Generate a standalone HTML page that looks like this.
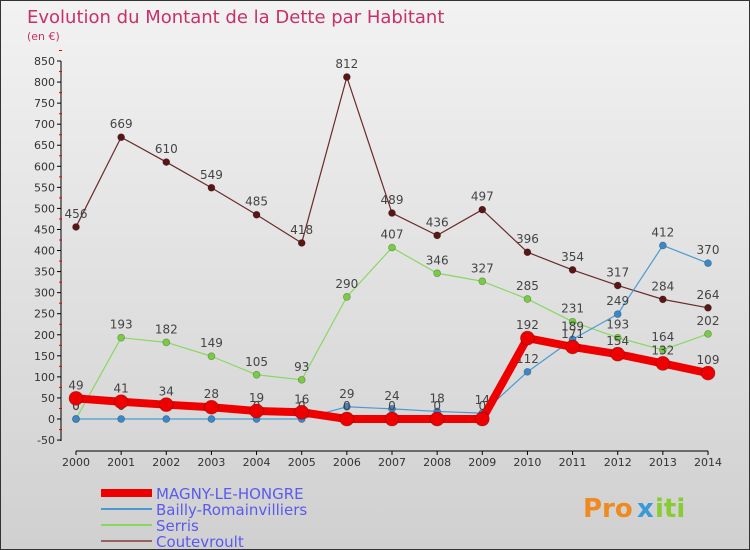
<!DOCTYPE html>
<html><head><meta charset="utf-8"><style>
body{margin:0}
#c{width:750px;height:550px;position:relative;background:linear-gradient(#f2f2f2,#d0d0d0);font-family:"DejaVu Sans","Liberation Sans",sans-serif;box-sizing:border-box;border:1px solid #333;overflow:hidden}
</style></head><body>
<div id="c">
<svg id="s" width="750" height="550" style="position:absolute;left:0;top:0"></svg>
</div>
<script>
const years=[2000,2001,2002,2003,2004,2005,2006,2007,2008,2009,2010,2011,2012,2013,2014];
const magny=[49,41,34,28,19,16,0,0,0,0,192,171,154,132,109];
const bailly=[0,0,0,0,0,0,29,24,18,14,112,189,249,412,370];
const serris=[0,193,182,149,105,93,290,407,346,327,285,231,193,164,202];
const coute=[456,669,610,549,485,418,812,489,436,497,396,354,317,284,264];
const yTicks=[-50,0,50,100,150,200,250,300,350,400,450,500,550,600,650,700,750,800,850];
const NS='http://www.w3.org/2000/svg',s=document.getElementById('s');
const X=i=>75+i*(707-75)/14, Y=v=>418-v*(418-60)/850;
function el(t,a,name,txt){const e=document.createElementNS(NS,t);for(const k in a)e.setAttribute(k,a[k]);


if(txt!==undefined)e.textContent=txt;s.appendChild(e);return e;}
el('text',{x:26,y:22,fill:'#c8306a','font-size':18},'chart-title','Evolution du Montant de la Dette par Habitant');
el('text',{x:26,y:39,fill:'#c8306a','font-size':11},'chart-subtitle','(en €)');
el('line',{x1:60,y1:60,x2:60,y2:440,stroke:'#000'},'y-axis');
el('line',{x1:75,y1:450,x2:707,y2:450,stroke:'#000'},'x-axis');
yTicks.forEach(v=>{const y=Y(v);el('line',{x1:56,y1:y,x2:60,y2:y,stroke:'#000'},'y-tick');
el('line',{x1:58,y1:y-10.5,x2:61,y2:y-10.5,stroke:'#e00'},'y-minor-tick');
el('text',{x:54,y:y+4,'text-anchor':'end','font-size':11,fill:'#333'},'y-tick-label',v);});
years.forEach((yr,i)=>{el('line',{x1:X(i),y1:450,x2:X(i),y2:454,stroke:'#000'},'x-tick');
el('text',{x:X(i),y:465,'text-anchor':'middle','font-size':11,fill:'#333'},'x-tick-label',yr);});
function series(d,col,w,r,dot,name){
el('polyline',{points:d.map((v,i)=>X(i)+','+Y(v)).join(' '),fill:'none',stroke:col,'stroke-width':w,'stroke-linejoin':'round'},name+'-line');
d.forEach((v,i)=>{el('circle',{cx:X(i),cy:Y(v),r:r,fill:dot,stroke:'rgba(0,0,0,0.3)','stroke-width':0.7},name+'-point');
el('text',{x:X(i),y:Y(v)-9,'text-anchor':'middle','font-size':12,fill:'#444'},name+'-value',v);});}
series(coute,'#6b2a2a',1.2,3.5,'#5a1515','coutevroult');
series(serris,'#88d860',1.2,3.5,'#77cc44','serris');
series(bailly,'#4a9ad0',1.2,3.5,'#3a88c8','bailly');
series(magny,'#ee0000',8,7,'#ee0000','magny');
const leg=[['MAGNY-LE-HONGRE','#ee0000',8],['Bailly-Romainvilliers','#4a9ad0',2],['Serris','#88d860',2],['Coutevroult','#9a6060',2]];
leg.forEach((l,i)=>{const y=492+i*16;el('line',{x1:100,y1:y,x2:151,y2:y,stroke:l[1],'stroke-width':l[2]},'legend-swatch');
el('text',{x:155,y:y+6,'font-size':15,fill:'#5a5aee'},'legend-label',l[0]);});
el('text',{x:582,y:516,'font-size':26,'font-weight':'bold',fill:'#f08a20'},'logo','Pro');
el('text',{x:636,y:516,'font-size':26,'font-weight':'bold',fill:'#3a9ad8'},'logo-x','x');
el('text',{x:654,y:516,'font-size':26,'font-weight':'bold',fill:'#88cc33'},'logo-iti','iti');
</script>
</body></html>
